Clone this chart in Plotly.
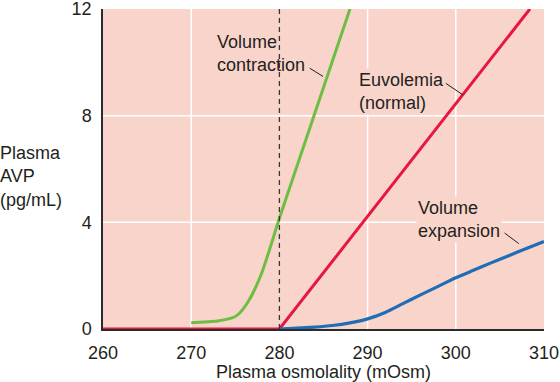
import plotly.graph_objects as go

# Data
euvolemia_x = [260, 280, 308.4]
euvolemia_y = [0, 0, 12]

contraction_x = [270, 271, 272, 273, 274, 275, 275.5, 276, 276.5, 277, 278, 279, 280, 288]
contraction_y = [0.23, 0.25, 0.27, 0.30, 0.36, 0.47, 0.6, 0.8, 1.05, 1.35, 2.1, 3.1, 4.15, 12]

expansion_x = [280, 282, 284, 286, 288, 290, 292, 294, 296, 298, 300, 302, 304, 306, 308, 310]
expansion_y = [0, 0.03, 0.07, 0.13, 0.23, 0.38, 0.62, 0.95, 1.28, 1.6, 1.92, 2.2, 2.48, 2.75, 3.02, 3.28]

x_ticks = [260, 270, 280, 290, 300, 310]
y_ticks = [0, 4, 8, 12]
grid_x = [270, 290, 300]
grid_y = [4, 8]
threshold_x = 280

PINK = "#f9d4ca"
TEXT = "#231f20"
FONT = "Liberation Sans, Arial, Helvetica, sans-serif"

fig = go.Figure()

fig.add_trace(go.Scatter(x=euvolemia_x, y=euvolemia_y, mode="lines",
                         line=dict(color="#e8173f", width=3), hoverinfo="skip", cliponaxis=False))
fig.add_trace(go.Scatter(x=expansion_x, y=expansion_y, mode="lines",
                         line=dict(color="#1f6db5", width=3.2, shape="spline", smoothing=0.6),
                         hoverinfo="skip"))
fig.add_trace(go.Scatter(x=contraction_x, y=contraction_y, mode="lines",
                         line=dict(color="#6cbf43", width=3, shape="spline", smoothing=0.6),
                         hoverinfo="skip"))

shapes = []
for gx in grid_x:
    shapes.append(dict(type="line", xref="x", yref="y", x0=gx, x1=gx, y0=0, y1=12,
                       line=dict(color="white", width=1.5), layer="below"))
for gy in grid_y:
    shapes.append(dict(type="line", xref="x", yref="y", x0=260, x1=310, y0=gy, y1=gy,
                       line=dict(color="white", width=1.5), layer="below"))
shapes.append(dict(type="line", xref="x", yref="y", x0=threshold_x, x1=threshold_x, y0=0, y1=12,
                   line=dict(color="#3a3535", width=1.3, dash="5px,4px"), layer="above"))
# leader lines
leaders = [
    (283.44, 9.78, 284.95, 9.47),
    (298.84, 9.22, 300.8, 8.78),
    (305.53, 3.6, 307.15, 3.2),
]
for x0, y0, x1, y1 in leaders:
    shapes.append(dict(type="line", xref="x", yref="y", x0=x0, y0=y0, x1=x1, y1=y1,
                       line=dict(color=TEXT, width=1), layer="above"))

annotations = [
    dict(x=272.8, y=10.35, text="Volume<br>contraction", xanchor="left", yanchor="middle",
         align="left", showarrow=False, font=dict(size=18, color=TEXT, family=FONT), borderpad=0),
    dict(x=288.8, y=8.92, text="Euvolemia<br>(normal)", xanchor="left", yanchor="middle",
         align="left", showarrow=False, font=dict(size=18, color=TEXT, family=FONT),
         bgcolor=PINK, borderpad=1),
    dict(x=295.45, y=4.1, text="Volume<br>expansion", xanchor="left", yanchor="middle",
         align="left", showarrow=False, font=dict(size=18, color=TEXT, family=FONT),
         bgcolor=PINK, borderpad=1),
    dict(xref="paper", yref="paper", x=-0.239, y=0.476, text="Plasma<br>AVP<br>(pg/mL)",
         xanchor="left", yanchor="middle", align="left", showarrow=False,
         font=dict(size=18, color=TEXT, family=FONT)),
]

fig.update_layout(
    width=560, height=382,
    margin=dict(l=103, r=15.5, t=9.3, b=52.6, autoexpand=False),
    paper_bgcolor="white",
    plot_bgcolor=PINK,
    showlegend=False,
    font=dict(family=FONT, size=18, color=TEXT),
    shapes=shapes,
    annotations=annotations,
    xaxis=dict(range=[260, 310], tickvals=x_ticks, ticktext=[str(v) for v in x_ticks],
               showgrid=False, zeroline=False, showline=True, linecolor="#2b2b2b", linewidth=1.5,
               ticks="", ticklabelstandoff=7, automargin=False, ticklabeloverflow="allow",
               title=dict(text="Plasma osmolality (mOsm)", standoff=0, font=dict(size=18))),
    yaxis=dict(range=[0, 12], tickvals=y_ticks, ticktext=[str(v) for v in y_ticks],
               showgrid=False, zeroline=False, showline=True, linecolor="#2b2b2b", linewidth=1.5,
               ticks="", ticklabelstandoff=6, automargin=False, ticklabeloverflow="allow"),
)

fig.write_html("out.html", config={"displayModeBar": False},
               post_script="document.body.style.margin='0';document.body.style.overflow='hidden';")
